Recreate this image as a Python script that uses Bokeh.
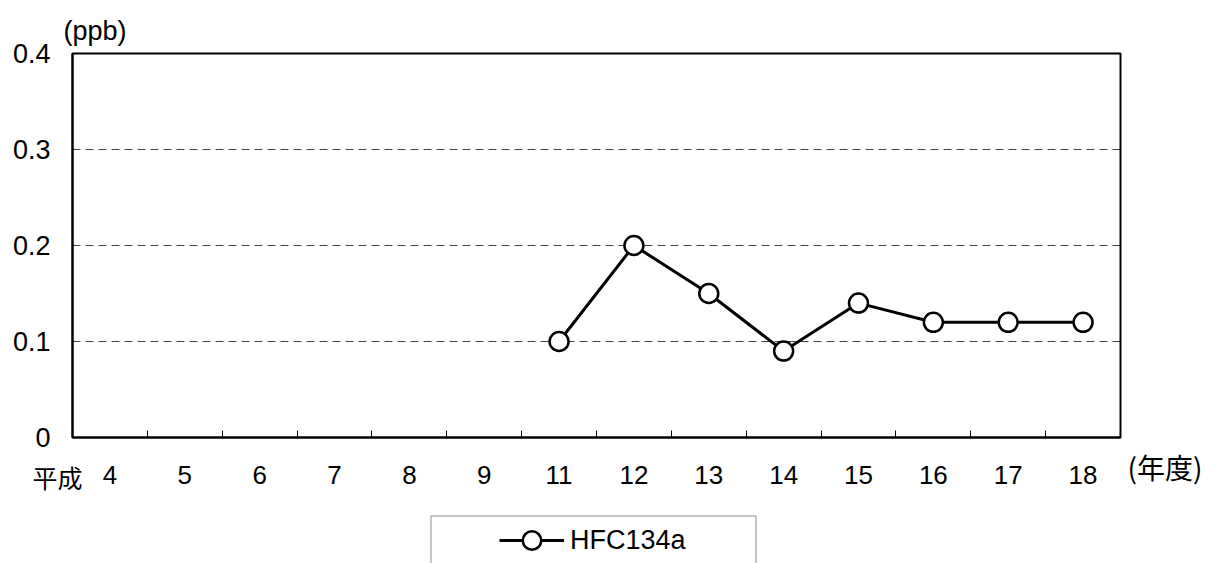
import numpy as np
from bokeh.plotting import figure
from bokeh.models import FixedTicker, Legend, LegendItem, Label, BoxAnnotation
from bokeh.embed import file_html
from bokeh.resources import INLINE

# ---- data ----
years = ["4", "5", "6", "7", "8", "9", "11", "12", "13", "14", "15", "16", "17", "18"]
hfc134a = [np.nan, np.nan, np.nan, np.nan, np.nan, np.nan,
           0.10, 0.20, 0.15, 0.09, 0.14, 0.12, 0.12, 0.12]
y_ticks = [0, 0.1, 0.2, 0.3, 0.4]
y_labels = ["0", "0.1", "0.2", "0.3", "0.4"]
grid_levels = [0.1, 0.2, 0.3]
series_name = "HFC134a"
era_label = "平成"
x_unit = "(年度)"
y_unit = "(ppb)"

FONT = "Liberation Sans"
CJK = "Noto Sans CJK JP"

W, H = 1215, 563
# plot box in pixels (left, right, top, bottom)
BL, BR, BT, BB = 72, 1120, 53, 437

n = len(years)
xs = [i + 0.5 for i in range(n)]
ymax = y_ticks[-1]

ppx = (BR - BL) / n          # pixels per x unit
ppy = (BB - BT) / ymax       # pixels per y unit
x_range = (-BL / ppx, n + (W - BR) / ppx)
y_range = (-(H - BB) / ppy, ymax + BT / ppy)

def dx(px):
    return (px - BL) / ppx

def dy(py):
    return (BB - py) / ppy

p = figure(width=W, height=H, output_backend="svg", toolbar_location=None,
           x_range=x_range, y_range=y_range, min_border=0)
p.background_fill_color = "white"
p.border_fill_color = "white"
p.outline_line_color = None
p.xgrid.visible = False
p.ygrid.visible = False

# x axis
xa = p.xaxis[0]
xa.fixed_location = 0
xa.bounds = (0, n)
xa.ticker = FixedTicker(ticks=xs, minor_ticks=list(range(n + 1)))
xa.major_label_overrides = {x: lab for x, lab in zip(xs, years)}
xa.major_tick_in = 0
xa.major_tick_out = 0
xa.minor_tick_in = 7
xa.minor_tick_out = 0
xa.minor_tick_line_color = "black"
xa.minor_tick_line_width = 1
xa.axis_line_color = "black"
xa.axis_line_width = 2
xa.major_label_text_font = FONT
xa.major_label_text_font_size = "26px"
xa.major_label_text_color = "black"
xa.major_label_standoff = 28

# y axis
ya = p.yaxis[0]
ya.fixed_location = 0
ya.bounds = (0, ymax)
ya.ticker = FixedTicker(ticks=y_ticks)
ya.major_label_overrides = {t: lab for t, lab in zip(y_ticks, y_labels)}
ya.major_tick_in = 0
ya.major_tick_out = 0
ya.minor_tick_line_color = None
ya.axis_line_color = "black"
ya.axis_line_width = 2
ya.major_label_text_font = FONT
ya.major_label_text_font_size = "27px"
ya.major_label_text_color = "black"
ya.major_label_standoff = 22

# dashed reference lines
p.segment(x0=[0] * len(grid_levels), x1=[n] * len(grid_levels),
          y0=grid_levels, y1=grid_levels,
          line_color="#444444", line_width=1, line_dash="8 5")

# plot box
p.add_layout(BoxAnnotation(left=0, right=n, bottom=0, top=ymax,
                           fill_color=None, fill_alpha=0,
                           line_color="black", line_alpha=1, line_width=2))

ln = p.line(xs, hfc134a, line_color="black", line_width=3)
sc = p.scatter(xs, hfc134a, marker="circle", size=19, fill_color="white",
               line_color="black", line_width=2.5)

# unit labels
p.add_layout(Label(x=dx(63), y=dy(30.5), text=y_unit, text_font=FONT, text_font_size="27px",
                   text_align="left", text_baseline="middle", text_color="black"))
p.add_layout(Label(x=dx(32), y=dy(476), text=era_label, text_font=CJK, text_font_size="25px",
                   text_align="left", text_baseline="middle", text_color="black"))
p.add_layout(Label(x=dx(1127), y=dy(466), text=x_unit, text_font=CJK, text_font_size="28px",
                   text_align="left", text_baseline="middle", text_color="black"))

# legend box
p.add_layout(BoxAnnotation(left=430.5, right=755.5, top=515.5, bottom=620,
                           left_units="canvas", right_units="canvas",
                           top_units="canvas", bottom_units="canvas",
                           fill_color="white", fill_alpha=1,
                           line_color="#8c8c8c", line_alpha=1, line_width=1))

legend = Legend(items=[LegendItem(label=series_name, renderers=[ln, sc])],
                location=(499, 0), padding=0, margin=0,
                glyph_width=65, glyph_height=46, label_height=46, label_standoff=6,
                label_text_font=FONT, label_text_font_size="27px",
                label_text_color="black",
                border_line_color=None, background_fill_alpha=0)
p.add_layout(legend, "center")

open("out.html", "w").write(file_html(p, INLINE))
